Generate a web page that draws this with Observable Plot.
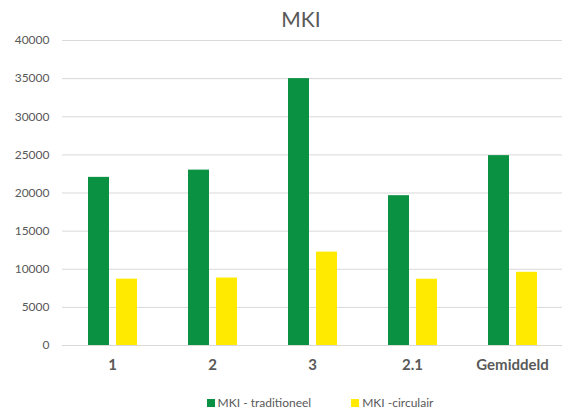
<!DOCTYPE html>
<html>
<head>
<meta charset="utf-8">
<script src="https://cdn.jsdelivr.net/npm/d3@7"></script>
<script src="https://cdn.jsdelivr.net/npm/@observablehq/plot@0.6"></script>
<style>
  html, body { margin: 0; padding: 0; background: #fff; }
  #wrap { position: relative; width: 563px; height: 411px; font-family: Lato, "Open Sans", sans-serif; color: #595959; }
  #title { position: absolute; top: 6px; left: 0; width: 602px; text-align: center; font-size: 21px; color: #595959; }
  #chart { position: absolute; top: 0; left: 0; }
  #legend { position: absolute; top: 395px; left: 0; width: 640px; text-align: center; font-size: 12px; color: #595959; }
  #legend span.item { margin: 0 20px; white-space: nowrap; }
  #legend span.sw { display: inline-block; width: 8px; height: 8px; margin-right: 3px; vertical-align: 0px; }
</style>
</head>
<body>
<div id="wrap">
  <div id="title">MKI</div>
  <div id="chart"></div>
  <div id="legend"></div>
</div>
<script>
const categories = ["1", "2", "3", "2.1", "Gemiddeld"];
const seriesNames = ["MKI - traditioneel", "MKI -circulair"];
const traditioneel = [22050, 23000, 35000, 19650, 24900];
const circulair = [8700, 8850, 12250, 8690, 9600];
const yTicks = [0, 5000, 10000, 15000, 20000, 25000, 30000, 35000, 40000];
const colors = ["#0a9141", "#ffea00"];

const data = [];
categories.forEach((c, i) => {
  data.push({cat: c, series: seriesNames[0], value: traditioneel[i]});
  data.push({cat: c, series: seriesNames[1], value: circulair[i]});
});

const chart = Plot.plot({
  width: 563,
  height: 385,
  marginTop: 40,
  marginBottom: 40,
  marginLeft: 60,
  marginRight: 0,
  style: {fontFamily: "Lato, 'Open Sans', sans-serif", color: "#595959", background: "transparent"},
  fx: {domain: categories, padding: 0, label: null, axis: null},
  x: {domain: seriesNames, paddingInner: 0.25, paddingOuter: 0.85, axis: null},
  y: {domain: [0, 40000], label: null},
  color: {domain: seriesNames, range: colors},
  marks: [
    Plot.gridY(yTicks, {stroke: "#d9d9d9", strokeOpacity: 1, strokeWidth: 1}),
    Plot.axisY(yTicks, {tickSize: 0, tickPadding: 13, fontSize: 12, fill: "#595959", label: null, tickFormat: d => String(d)}),
    Plot.axisFx({anchor: "bottom", tickSize: 0, tickPadding: 14, fontSize: 15, fontWeight: "bold", fill: "#595959", label: null}),
    Plot.barY(data, {fx: "cat", x: "series", y: "value", fill: "series"})
  ]
});
document.getElementById("chart").appendChild(chart);

const legend = document.getElementById("legend");
seriesNames.forEach((s, i) => {
  const item = document.createElement("span");
  item.className = "item";
  const sw = document.createElement("span");
  sw.className = "sw";
  sw.style.background = colors[i];
  item.appendChild(sw);
  item.appendChild(document.createTextNode(s));
  legend.appendChild(item);
});
</script>
</body>
</html>
